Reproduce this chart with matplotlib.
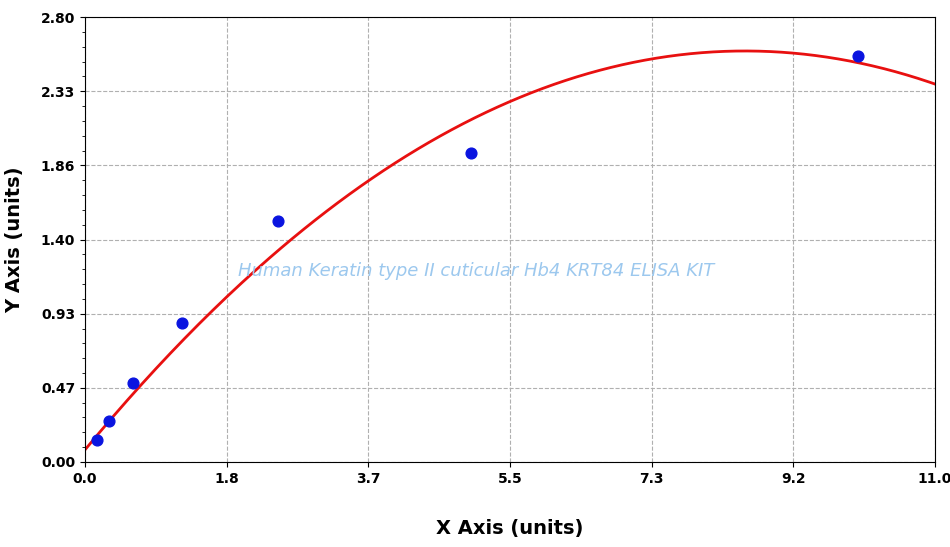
import numpy as np
import matplotlib
matplotlib.use("Agg")
import matplotlib.pyplot as plt

x_pts = [0.156, 0.312, 0.625, 1.25, 2.5, 5.0, 10.0]
y_pts = [0.138, 0.258, 0.497, 0.875, 1.516, 1.944, 2.555]
# quadratic fit coefficients (a*x^2 + b*x + c)
fit_a, fit_b, fit_c = -0.0344, 0.5876, 0.077
xticks = [0, 11/6, 22/6, 33/6, 44/6, 55/6, 11]
xtick_labels = ["0.0", "1.8", "3.7", "5.5", "7.3", "9.2", "11.0"]
yticks = [0, 2.8/6, 5.6/6, 8.4/6, 11.2/6, 14/6, 2.8]
ytick_labels = ["0.00", "0.47", "0.93", "1.40", "1.86", "2.33", "2.80"]

fig = plt.figure(figsize=(9.5, 5.47), dpi=100)
ax = fig.add_axes([0.0895, 0.1554, 0.8947, 0.8135])
xc = np.linspace(0, 11, 300)
ax.plot(xc, fit_a * xc**2 + fit_b * xc + fit_c, color="#e81010", lw=2, zorder=2)
ax.scatter(x_pts, y_pts, color="#0a14e0", s=60, zorder=3)
ax.set_xlim(0, 11)
ax.set_ylim(0, 2.8)
ax.set_xticks(xticks)
ax.set_xticklabels(xtick_labels, fontweight="bold", fontsize=10)
ax.set_yticks(yticks)
ax.set_yticklabels(ytick_labels, fontweight="bold", fontsize=10)
ax.set_yticks(np.arange(0, 2.8001, 2.8/30), minor=True)
ax.grid(True, linestyle="--", color="#b0b0b0", lw=0.8)
ax.set_xlabel("X Axis (units)", fontweight="bold", fontsize=14, labelpad=24)
ax.set_ylabel("Y Axis (units)", fontweight="bold", fontsize=14, labelpad=12)
ax.text(0.46, 0.43, "Human Keratin type II cuticular Hb4 KRT84 ELISA KIT",
        transform=ax.transAxes, ha="center", va="center", color="#9cc8ee",
        fontsize=13, style="italic")
fig.savefig("out.png", dpi=100)
